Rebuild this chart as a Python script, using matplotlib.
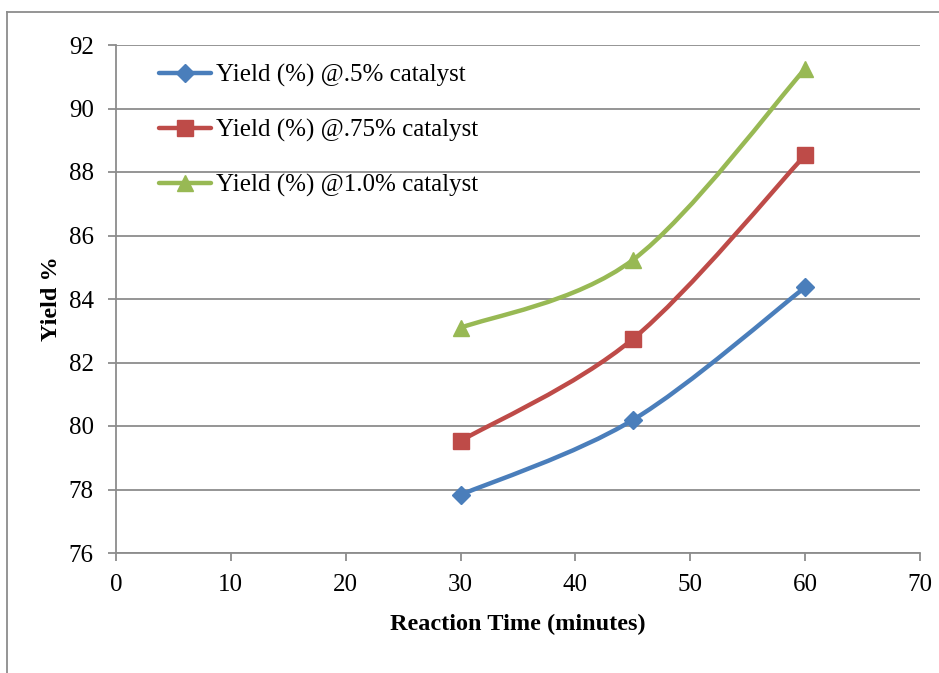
import matplotlib
matplotlib.use("Agg")
import matplotlib.pyplot as plt
from matplotlib.path import Path
from matplotlib.patches import PathPatch
from matplotlib.lines import Line2D

# Reaction time (minutes) and yield (%) per catalyst loading
time_min = [30, 45, 60]
yield_05 = [77.83, 80.19, 84.37]
yield_075 = [79.53, 82.74, 88.53]
yield_10 = [83.09, 85.23, 91.25]

series_labels = ["Yield (%) @.5% catalyst",
                 "Yield (%) @.75% catalyst",
                 "Yield (%) @1.0% catalyst"]
series_colors = ["#4A7EBB", "#BE4B48", "#98B954"]
series_markers = ["D", "s", "^"]
marker_sizes = [9, 11.5, 12]

x_ticks = [0, 10, 20, 30, 40, 50, 60, 70]
y_ticks = [76, 78, 80, 82, 84, 86, 88, 90, 92]

plt.rcParams["font.family"] = ["Liberation Serif", "DejaVu Serif"]

fig = plt.figure(figsize=(9.39, 6.73), dpi=100)
ax = fig.add_axes([116 / 939, 1 - 553 / 673, (920 - 116) / 939, (553 - 45) / 673])

# chart border
fig.add_artist(Line2D([6.5 / 939, 6.5 / 939], [0, 1 - 11.5 / 673],
                      transform=fig.transFigure, color="#8C8C8C", lw=1.3))
fig.add_artist(Line2D([6.5 / 939, 1], [1 - 11.5 / 673, 1 - 11.5 / 673],
                      transform=fig.transFigure, color="#8C8C8C", lw=1.3))


def smooth_path(xs, ys):
    # Catmull-Rom style cubic Bezier through the points
    pts = list(zip(xs, ys))
    n = len(pts)
    verts = [pts[0]]
    codes = [Path.MOVETO]
    for i in range(n - 1):
        p0 = pts[max(i - 1, 0)]
        p1 = pts[i]
        p2 = pts[i + 1]
        p3 = pts[min(i + 2, n - 1)]
        c1 = (p1[0] + (p2[0] - p0[0]) / 6, p1[1] + (p2[1] - p0[1]) / 6)
        c2 = (p2[0] - (p3[0] - p1[0]) / 6, p2[1] - (p3[1] - p1[1]) / 6)
        verts += [c1, c2, p2]
        codes += [Path.CURVE4] * 3
    return Path(verts, codes)


handles = []
for ys, lab, col, mk, ms in zip([yield_05, yield_075, yield_10], series_labels,
                                series_colors, series_markers, marker_sizes):
    patch = PathPatch(smooth_path(time_min, ys), facecolor="none", edgecolor=col,
                      lw=3.2, capstyle="round", joinstyle="round", zorder=3)
    ax.add_patch(patch)
    ax.plot(time_min, ys, linestyle="none", marker=mk, markersize=ms,
            color=col, markeredgecolor=col, zorder=4)
    handles.append(Line2D([], [], color=col, lw=3.2, marker=mk, markersize=ms,
                          markeredgecolor=col, solid_capstyle="round"))

ax.set_xlim(0, 70)
ax.set_ylim(76, 92)
ax.set_xticks(x_ticks)
ax.set_yticks(y_ticks)
ax.grid(axis="y", color="#8C8C8C", lw=1.3)
ax.set_axisbelow(True)

for s in ["top", "right"]:
    ax.spines[s].set_visible(False)
for s in ["left", "bottom"]:
    ax.spines[s].set_color("#8C8C8C")
    ax.spines[s].set_linewidth(1.3)

ax.tick_params(axis="both", direction="out", length=6, width=1.3,
               color="#8C8C8C", labelsize=18, labelcolor="black")
ax.tick_params(axis="y", pad=10)
ax.tick_params(axis="x", pad=9)

ax.set_xlabel("Reaction Time (minutes)", fontsize=17.5, fontweight="bold", labelpad=13)
ax.set_ylabel("Yield %", fontsize=17.5, fontweight="bold", labelpad=5)

leg = ax.legend(handles, series_labels, loc="upper left",
                bbox_to_anchor=(0.053, 0.962), frameon=False, fontsize=18,
                handlelength=2.1, handletextpad=0.2, labelspacing=1.27,
                borderaxespad=0, borderpad=0)

fig.savefig("out.png", dpi=100)
